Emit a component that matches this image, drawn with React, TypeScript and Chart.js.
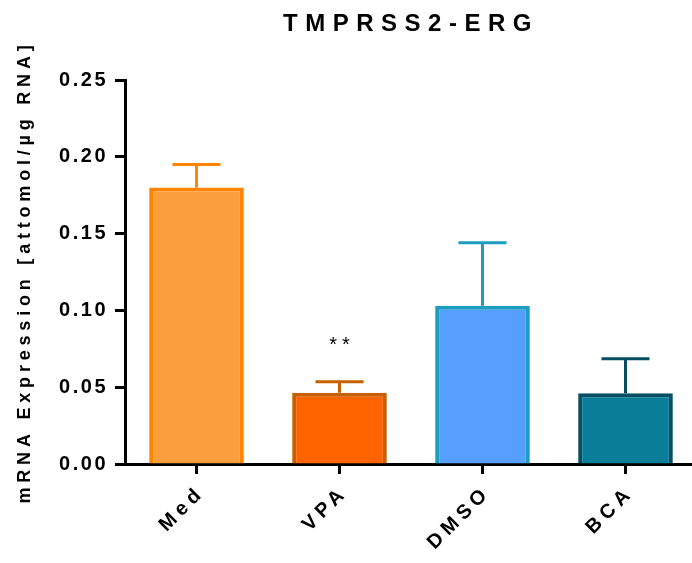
import React, { useEffect, useRef } from 'react';
import { Chart, registerables } from 'chart.js';

Chart.register(...registerables);

const titleText = 'TMPRSS2-ERG';
const yAxisTitle = 'mRNA Expression [attomol/µg RNA]';
const categories = ['Med', 'VPA', 'DMSO', 'BCA'];
const means = [0.18, 0.0464, 0.103, 0.046];
const errorTops = [0.195, 0.0536, 0.144, 0.0686];
const significance = ['', '**', '', ''];
const significanceLevel = [0, 0.08, 0, 0];
const yMin = 0;
const yMax = 0.25;
const yStep = 0.05;

const fillColors = ['#FB9F3E', '#FF6400', '#569FFF', '#0A7E98'];
const borderColors = ['#FF8500', '#C76100', '#1B9EBF', '#074E62'];

const FONT = '"Liberation Sans", Arial, Helvetica, sans-serif';

const spacingPlugin = {
  id: 'letterSpacingWrap',
  beforeDraw(chart: any) {
    const wrap = (obj: any, name: string, sp: string, dx = 0, dy = 0) => {
      if (!obj || obj['__w_' + name]) return;
      const orig = obj[name];
      obj[name] = function (...args: any[]) {
        const ctx = this.ctx;
        ctx.save();
        ctx.translate(dx, dy);
        ctx.letterSpacing = sp;
        const r = orig.apply(this, args);
        ctx.restore();
        return r;
      };
      obj['__w_' + name] = true;
    };
    wrap(chart.scales.x, 'drawLabels', '5px', 5, 1);
    wrap(chart.scales.y, 'drawLabels', '2.5px');
    wrap(chart.scales.y, 'drawTitle', '4.8px');
    wrap(chart.titleBlock, 'draw', '7.5px');
  },
};

const errorBarPlugin = {
  id: 'errorBars',
  afterDatasetsDraw(chart: any) {
    const ctx = chart.ctx;
    const meta = chart.getDatasetMeta(0);
    const ys = chart.scales.y;
    meta.data.forEach((bar: any, i: number) => {
      const x = bar.x;
      const yTop = ys.getPixelForValue(errorTops[i]);
      const yMean = ys.getPixelForValue(means[i]);
      ctx.save();
      ctx.strokeStyle = borderColors[i];
      ctx.lineWidth = 3;
      ctx.lineCap = 'butt';
      ctx.beginPath();
      ctx.moveTo(x, yMean);
      ctx.lineTo(x, yTop);
      ctx.moveTo(x - 24, yTop);
      ctx.lineTo(x + 24, yTop);
      ctx.stroke();
      if (significance[i]) {
        ctx.fillStyle = '#000';
        ctx.font = `20px ${FONT}`;
        ctx.letterSpacing = '5px';
        ctx.textAlign = 'center';
        ctx.textBaseline = 'middle';
        ctx.fillText(significance[i], x + 2.5, ys.getPixelForValue(significanceLevel[i]) + 4);
      }
      ctx.restore();
    });
  },
};

export default function App() {
  const ref = useRef<HTMLCanvasElement | null>(null);

  useEffect(() => {
    if (!ref.current) return;
    const chart = new Chart(ref.current, {
      type: 'bar',
      data: {
        labels: categories,
        datasets: [
          {
            data: means,
            backgroundColor: fillColors,
            borderColor: borderColors,
            borderWidth: 4,
            borderSkipped: 'start',
            barPercentage: 0.662,
            categoryPercentage: 1,
          },
        ],
      },
      options: {
        responsive: false,
        devicePixelRatio: 1,
        animation: false,
        layout: { padding: { left: 0, right: 8, top: 0, bottom: 0 }, autoPadding: false },
        plugins: {
          legend: { display: false },
          tooltip: { enabled: false },
          title: {
            display: true,
            text: titleText,
            fullSize: false,
            color: '#000',
            font: { family: FONT, size: 24, weight: 'bold' },
            padding: { top: 10, bottom: 41.2 },
          },
        },
        scales: {
          x: {
            offset: true,
            grid: {
              offset: false,
              drawOnChartArea: false,
              drawTicks: true,
              tickLength: 10,
              tickWidth: 3,
              tickColor: '#000',
            },
            border: { display: true, width: 3, color: '#000' },
            ticks: {
              color: '#000',
              font: { family: FONT, size: 20, weight: 'bold' },
              minRotation: 45,
              maxRotation: 45,
              padding: 6,
            },
            afterFit: (s: any) => {
              s.height = 99;
            },
          },
          y: {
            min: yMin,
            max: yMax,
            grid: {
              drawOnChartArea: false,
              drawTicks: true,
              tickLength: 10,
              tickWidth: 3,
              tickColor: '#000',
            },
            border: { display: true, width: 3, color: '#000' },
            ticks: {
              stepSize: yStep,
              color: '#000',
              font: { family: FONT, size: 20, weight: 'bold' },
              padding: 7,
              callback: (v: any) => Number(v).toFixed(2),
            },
            title: {
              display: true,
              text: yAxisTitle,
              color: '#000',
              font: { family: FONT, size: 18, weight: 'bold' },
              padding: { top: 14, bottom: 0 },
            },
            afterFit: (s: any) => {
              s.width = 125;
            },
          },
        },
      },
      plugins: [spacingPlugin, errorBarPlugin],
    });
    chart.draw();
    return () => chart.destroy();
  }, []);

  return (
    <div
      style={{
        position: 'fixed',
        left: 0,
        top: 0,
        width: 692,
        height: 563,
        overflow: 'hidden',
        background: '#fff',
      }}
    >
      <canvas ref={ref} width={705} height={563} style={{ display: 'block', width: 705, height: 563 }} />
    </div>
  );
}
